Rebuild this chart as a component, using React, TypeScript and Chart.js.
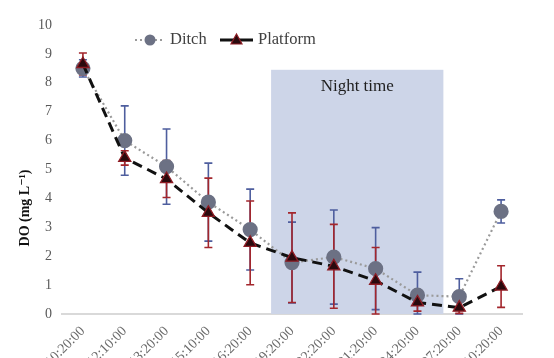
import React, { useEffect, useRef } from "react";
import { Chart, registerables } from "chart.js";

Chart.register(...registerables);

const labels = ["10:20:00", "12:10:00", "13:20:00", "15:10:00", "16:20:00", "19:20:00", "22:20:00", "01:20:00", "04:20:00", "07:20:00", "10:20:00"];
const ditch = [8.5, 6.0, 5.1, 3.87, 2.92, 1.78, 1.97, 1.57, 0.65, 0.6, 3.55];
const ditchErr = [0.3, 1.2, 1.3, 1.35, 1.4, 1.4, 1.63, 1.42, 0.8, 0.62, 0.4];
const platform = [8.65, 5.4, 4.67, 3.5, 2.46, 1.95, 1.65, 1.15, 0.4, 0.22, 0.95];
const platformErr = [0.38, 0.25, 0.64, 1.2, 1.45, 1.55, 1.45, 1.15, 0.3, 0.2, 0.72];
const nightStart = 4.5;
const nightEnd = 8.62;
const nightTop = 8.45;
const nightLabel = "Night time";
const yTitle = "DO (mg L⁻¹)";
const yTicks = [0, 1, 2, 3, 4, 5, 6, 7, 8, 9, 10];

const SERIF = "'Liberation Serif', 'DejaVu Serif', serif";
const DITCH_COLOR = "#6c7184";
const DITCH_ERR = "#4e5e9e";
const PLAT_FILL = "#2a0a0e";
const PLAT_BORDER = "#8e1c24";
const PLAT_ERR = "#a3262c";

const bgPlugin = {
  id: "bgPlugin",
  beforeDatasetsDraw(chart: any) {
    const { ctx, scales } = chart;
    const x = scales.x;
    const y = scales.y;
    const x0 = x.getPixelForValue(nightStart);
    const x1 = x.getPixelForValue(nightEnd);
    const yTop = y.getPixelForValue(nightTop);
    const yBot = y.getPixelForValue(0);
    ctx.save();
    ctx.fillStyle = "#cdd5e8";
    ctx.fillRect(x0, yTop, x1 - x0, yBot - yTop);
    ctx.fillStyle = "#1e1e1e";
    ctx.font = `17px ${SERIF}`;
    ctx.textAlign = "center";
    ctx.textBaseline = "middle";
    ctx.fillText(nightLabel, (x0 + x1) / 2, yTop + 17);

    const drawErr = (vals: number[], errs: number[], color: string) => {
      ctx.strokeStyle = color;
      ctx.lineWidth = 1.6;
      vals.forEach((v, i) => {
        const px = x.getPixelForValue(i);
        const yu = y.getPixelForValue(v + errs[i]);
        const yl = y.getPixelForValue(Math.max(0, v - errs[i]));
        ctx.beginPath();
        ctx.moveTo(px, yu);
        ctx.lineTo(px, yl);
        ctx.moveTo(px - 4, yu);
        ctx.lineTo(px + 4, yu);
        ctx.moveTo(px - 4, yl);
        ctx.lineTo(px + 4, yl);
        ctx.stroke();
      });
    };
    drawErr(ditch, ditchErr, DITCH_ERR);
    drawErr(platform, platformErr, PLAT_ERR);
    ctx.restore();
  },
  afterDraw(chart: any) {
    const { ctx, chartArea } = chart;
    const ly = 40;
    const lx = chartArea.left + 73;
    ctx.save();
    // y title
    ctx.save();
    ctx.translate(25, 208);
    ctx.rotate(-Math.PI / 2);
    ctx.fillStyle = "#111";
    ctx.font = `bold 14px ${SERIF}`;
    ctx.textAlign = "center";
    ctx.textBaseline = "middle";
    ctx.fillText(yTitle, 0, 0);
    ctx.restore();
    // Ditch
    ctx.strokeStyle = "#9a9a9a";
    ctx.lineWidth = 2;
    ctx.setLineDash([2, 3]);
    ctx.beginPath();
    ctx.moveTo(lx, ly);
    ctx.lineTo(lx + 30, ly);
    ctx.stroke();
    ctx.setLineDash([]);
    ctx.fillStyle = DITCH_COLOR;
    ctx.beginPath();
    ctx.arc(lx + 15, ly, 5.5, 0, Math.PI * 2);
    ctx.fill();
    ctx.fillStyle = "#404040";
    ctx.font = `16.5px ${SERIF}`;
    ctx.textBaseline = "middle";
    ctx.textAlign = "left";
    ctx.fillText("Ditch", lx + 35, ly);
    // Platform
    const px = lx + 85;
    ctx.strokeStyle = "#111";
    ctx.lineWidth = 3;
    ctx.beginPath();
    ctx.moveTo(px, ly);
    ctx.lineTo(px + 33, ly);
    ctx.stroke();
    ctx.fillStyle = PLAT_FILL;
    ctx.strokeStyle = PLAT_BORDER;
    ctx.lineWidth = 1.2;
    ctx.beginPath();
    ctx.moveTo(px + 16.5, ly - 6);
    ctx.lineTo(px + 22, ly + 4);
    ctx.lineTo(px + 11, ly + 4);
    ctx.closePath();
    ctx.fill();
    ctx.stroke();
    ctx.fillStyle = "#404040";
    ctx.fillText("Platform", px + 38, ly);
    ctx.restore();
  },
};

export default function App() {
  const ref = useRef<HTMLCanvasElement>(null);
  useEffect(() => {
    document.body.style.margin = "0";
    const chart = new Chart(ref.current!, {
      type: "line",
      data: {
        labels,
        datasets: [
          {
            label: "Ditch",
            data: ditch,
            order: 1,
            borderColor: "#9a9a9a",
            borderWidth: 2.2,
            borderDash: [2, 3],
            pointStyle: "circle",
            pointRadius: 6.5,
            pointBackgroundColor: DITCH_COLOR,
            pointBorderColor: DITCH_COLOR,
            fill: false,
            tension: 0,
          },
          {
            label: "Platform",
            data: platform,
            order: 0,
            borderColor: "#111111",
            borderWidth: 3,
            borderDash: [10, 6],
            pointStyle: "triangle",
            pointRadius: 7,
            pointBackgroundColor: PLAT_FILL,
            pointBorderColor: PLAT_BORDER,
            pointBorderWidth: 1.3,
            fill: false,
            tension: 0,
          },
        ],
      },
      options: {
        animation: false,
        responsive: false,
        layout: { padding: { left: 8, top: 25, right: 32, bottom: 0 } },
        plugins: { legend: { display: false }, tooltip: { enabled: false } },
        scales: {
          x: {
            offset: true,
            grid: { display: false, drawTicks: false },
            border: { display: true, color: "#d9d9d9", width: 2 },
            ticks: {
              autoSkip: false,
              maxRotation: 45,
              minRotation: 45,
              padding: 9,
              color: "#6a6a6a",
              font: { family: SERIF, size: 14 },
            },
            afterFit: (s: any) => {
              s.height = 61;
            },
          },
          y: {
            min: 0,
            max: 10,
            afterBuildTicks: (s: any) => {
              s.ticks = yTicks.map((v) => ({ value: v }));
            },
            grid: { display: false, drawTicks: false },
            border: { display: false },
            ticks: {
              padding: 10,
              color: "#595959",
              font: { family: SERIF, size: 14 },
            },
            afterFit: (s: any) => {
              s.width = 54;
            },
          },
        },
      },
      plugins: [bgPlugin],
    });
    return () => chart.destroy();
  }, []);
  return (
    <div style={{ width: 554, height: 358, overflow: "hidden", position: "relative" }}>
      <canvas ref={ref} width={554} height={375} style={{ display: "block" }} />
    </div>
  );
}
